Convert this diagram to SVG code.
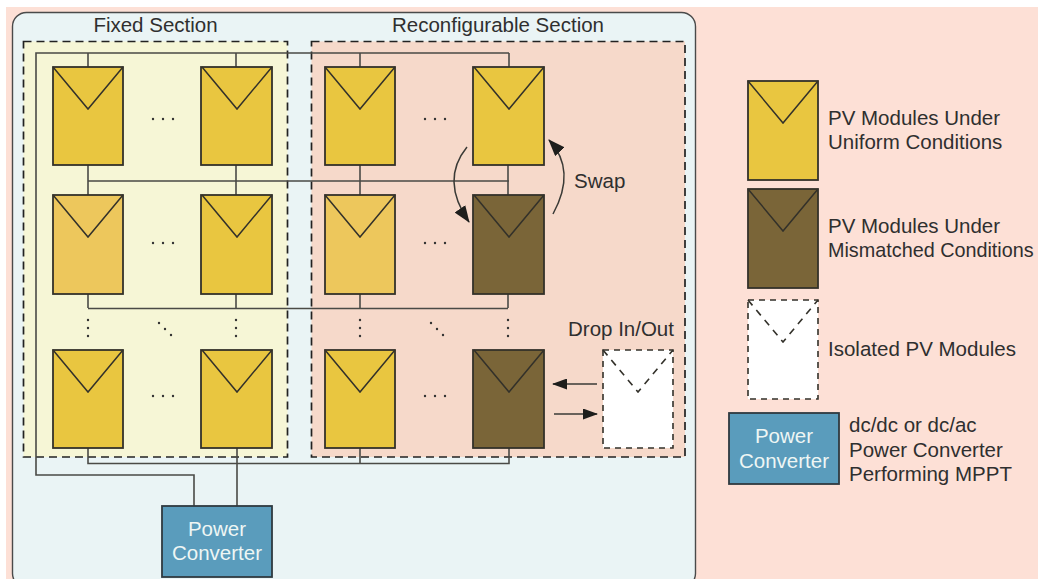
<svg xmlns="http://www.w3.org/2000/svg" width="1038" height="579" viewBox="0 0 1038 579">
<style>
text{font-family:"Liberation Sans",Arial,sans-serif;font-size:20.500px;fill:#2f2f2f}
.w{fill:#eef6f4}
.m{stroke:#33312a;stroke-width:1.8}
.v{fill:none;stroke:#33312a;stroke-width:1.5}
.uni{fill:#e9c640}.alt{fill:#edc75c}.mis{fill:#7a6538}
.iso{fill:#fff;stroke:#33312a;stroke-width:1.6;stroke-dasharray:6 5}
.isov{fill:none;stroke:#33312a;stroke-width:1.6;stroke-dasharray:7 6}
.pc{fill:#5a9cbc;stroke:#2f3a40;stroke-width:1.8}
.sec{stroke:#222;stroke-width:1.7;stroke-dasharray:8 5}
.wire{fill:none;stroke:#4a4a46;stroke-width:1.6}
.arr{fill:none;stroke:#3a3a36;stroke-width:1.5}
.dot{fill:#333}
</style>
<defs>
<marker id="ah" viewBox="0 0 15 11" refX="14" refY="5.500" markerWidth="15" markerHeight="11" markerUnits="userSpaceOnUse" orient="auto"><path d="M0 0L15 5.500L0 11Z" fill="#1e1e1c"/></marker>
<marker id="ahb" viewBox="0 0 17 13" refX="16" refY="6.500" markerWidth="17" markerHeight="13" markerUnits="userSpaceOnUse" orient="auto"><path d="M0 0L17 6.500L0 13Z" fill="#1e1e1c"/></marker>
<path id="vee" d="M0 0L35 42L70 0" class="v"/>
<g id="dh"><circle cx="0" r="1.200" class="dot"/><circle cx="10" r="1.200" class="dot"/><circle cx="20" r="1.200" class="dot"/></g>
<g id="dv"><circle cy="0" r="1.200" class="dot"/><circle cy="8" r="1.200" class="dot"/><circle cy="16" r="1.200" class="dot"/></g>
<g id="dd"><circle r="1.200" class="dot"/><circle cx="6" cy="6" r="1.200" class="dot"/><circle cx="12" cy="12" r="1.200" class="dot"/></g>
</defs>

<rect x="6" y="7" width="1032" height="572" fill="#fde0d6"/>
<rect x="12.500" y="12.500" width="683" height="575" rx="14" fill="#eaf4f5" stroke="#4a4a4a" stroke-width="1.4"/>
<g id="fixed-section"><rect x="23.500" y="41.500" width="264" height="415.500" fill="#f6f6d6" class="sec"/><text x="155.500" y="32" text-anchor="middle">Fixed Section</text></g>
<g id="reconfigurable-section"><rect x="311.500" y="41.500" width="373.500" height="415.500" fill="#f6d9ca" class="sec"/><text x="498" y="32" text-anchor="middle">Reconfigurable Section</text></g>

<g id="connectors">
<path class="wire" d="M88 53V67M236 53V67M360 53V67M509 53V67"/>
<path class="wire" d="M509 53H36V475H194V506"/>
<path class="wire" d="M88 165V195M236 165V195M360 165V195M508 165V195M88 181H509"/>
<path class="wire" d="M88 294V308M360 294V308M508 294V308M236 294V308M88 308.500H508"/>
<path class="wire" d="M88 448V463.500H509V448M360 448V463M237 448V506"/>
<path class="arr" d="M467 147Q440 180 469 222" marker-end="url(#ahb)"/>
<path class="arr" d="M553 214Q577 170 549 140" marker-end="url(#ahb)"/>
<path class="arr" d="M597 384H553" marker-end="url(#ah)"/>
<path class="arr" d="M554 414H597" marker-end="url(#ah)"/>
</g>

<g id="m-1-1"><rect x="53" y="67" width="70" height="98" class="m uni"/><use href="#vee" x="53" y="67"/></g>
<g id="m-1-2"><rect x="201" y="67" width="71" height="98" class="m uni"/><use href="#vee" x="202" y="67"/></g>
<g id="m-1-3"><rect x="325" y="67" width="70" height="98" class="m uni"/><use href="#vee" x="325" y="67"/></g>
<g id="m-1-4"><rect x="473" y="67" width="71" height="98" class="m uni"/><use href="#vee" x="474" y="67"/></g>
<g id="m-2-1"><rect x="53" y="195" width="70" height="99" class="m alt"/><use href="#vee" x="53" y="195"/></g>
<g id="m-2-2"><rect x="201" y="195" width="71" height="99" class="m uni"/><use href="#vee" x="202" y="195"/></g>
<g id="m-2-3"><rect x="325" y="195" width="70" height="99" class="m alt"/><use href="#vee" x="325" y="195"/></g>
<g id="m-2-4"><rect x="473" y="195" width="71" height="99" class="m mis"/><use href="#vee" x="474" y="195"/></g>
<g id="m-3-1"><rect x="53" y="350" width="70" height="98" class="m uni"/><use href="#vee" x="53" y="350"/></g>
<g id="m-3-2"><rect x="201" y="350" width="71" height="98" class="m uni"/><use href="#vee" x="202" y="350"/></g>
<g id="m-3-3"><rect x="325" y="350" width="70" height="98" class="m uni"/><use href="#vee" x="325" y="350"/></g>
<g id="m-3-4"><rect x="473" y="350" width="71" height="98" class="m mis"/><use href="#vee" x="474" y="350"/></g>
<g id="m-drop"><rect x="603" y="350" width="70" height="98" class="iso"/><path d="M603 350L638 392L673 350" class="isov"/></g>

<g id="ellipses">
<use href="#dh" x="153" y="119"/><use href="#dh" x="425" y="119"/>
<use href="#dh" x="153" y="243"/><use href="#dh" x="425" y="243"/>
<use href="#dh" x="153" y="396"/><use href="#dh" x="425" y="396"/>
<use href="#dv" x="88" y="320"/><use href="#dv" x="236" y="320"/><use href="#dv" x="360" y="320"/><use href="#dv" x="508" y="320"/>
<use href="#dd" x="159" y="323"/><use href="#dd" x="431" y="323"/>
</g>

<text x="574" y="188">Swap</text>
<text x="568" y="336">Drop In/Out</text>

<g id="power-converter"><rect x="162" y="506" width="110" height="71" class="pc"/><text class="w" x="217" y="536" text-anchor="middle">Power</text><text class="w" x="217" y="560" text-anchor="middle">Converter</text></g>

<g id="legend-uniform"><rect x="748" y="81" width="70" height="99" class="m uni"/><use href="#vee" x="748" y="81"/><text x="828" y="125">PV Modules Under</text><text x="828" y="149">Uniform Conditions</text></g>
<g id="legend-mismatched"><rect x="748" y="189" width="70" height="99" class="m mis"/><use href="#vee" x="748" y="189"/><text x="828" y="233">PV Modules Under</text><text x="828" y="257" style="font-size:19.800px">Mismatched Conditions</text></g>
<g id="legend-isolated"><rect x="748" y="300" width="70" height="99" class="iso"/><path d="M748 300L783 342L818 300" class="isov"/><text x="828" y="356">Isolated PV Modules</text></g>
<g id="legend-converter"><rect x="729" y="413" width="110" height="71" class="pc"/><text class="w" x="784" y="443" text-anchor="middle">Power</text><text class="w" x="784" y="468" text-anchor="middle">Converter</text><text x="849" y="432">dc/dc or dc/ac</text><text x="849" y="457">Power Converter</text><text x="849" y="481">Performing MPPT</text></g>
</svg>
